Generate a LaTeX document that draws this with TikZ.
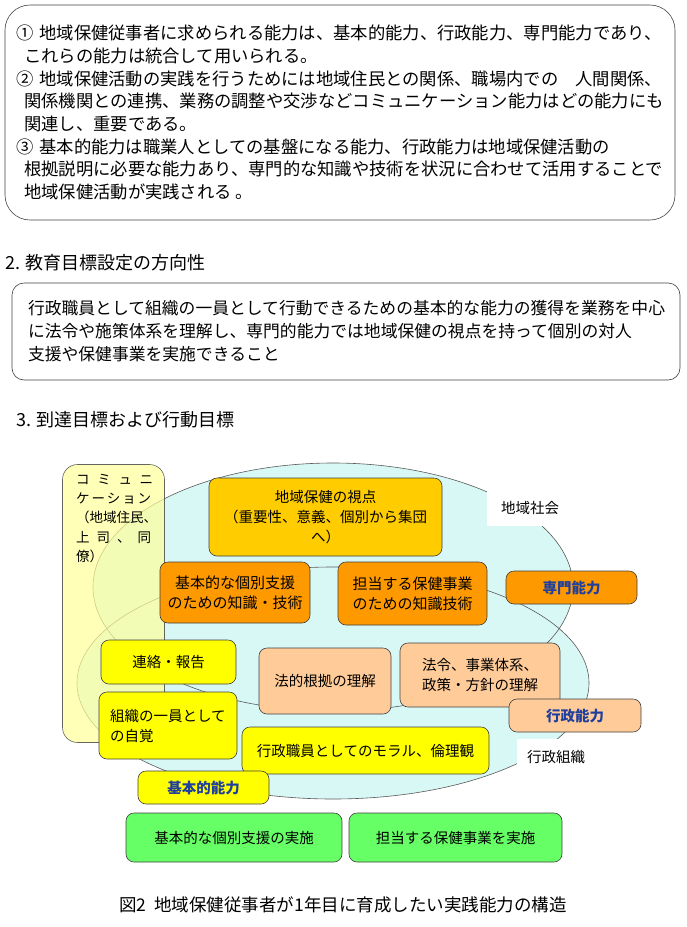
\documentclass[tikz,border=0pt]{standalone}
\usepackage{fontspec}
\setmainfont{Noto Sans CJK JP}
\usepackage{tikz}
\usetikzlibrary{positioning}
\definecolor{basicyellow}{HTML}{FFFF00}
\definecolor{commyellow}{HTML}{FFFF99}
\definecolor{adminpeach}{HTML}{FFCC99}
\definecolor{expertorange}{HTML}{FF9900}
\definecolor{viewgold}{HTML}{FFCC00}
\definecolor{practicegreen}{HTML}{66FF66}
\definecolor{areacyan}{HTML}{D8F8F6}
\definecolor{tagblue}{HTML}{1F3F9F}
\newcommand{\fs}[2]{\fontsize{#1}{#2}\selectfont}

\begin{document}
\begin{tikzpicture}[
  x=1pt, y=-1pt,
  font=\fs{14.5}{20},
  panel/.style={draw=black!75, line width=0.6pt, rounded corners=#1, inner sep=0pt},
  boxsize/.style 2 args={minimum width=#1pt, minimum height=#2pt},
  cbox/.style={draw=black!75, line width=0.6pt, rounded corners=8pt, align=center, inner sep=0pt},
  basic/.style={cbox, fill=basicyellow},
  admin/.style={cbox, fill=adminpeach},
  expert/.style={cbox, fill=expertorange, font=\fs{15}{20}},
  view/.style={cbox, fill=viewgold},
  practice/.style={cbox, fill=practicegreen},
  tag/.style={font=\bfseries\fs{14.5}{18}, text=tagblue},
  area/.style={draw=black!65, line width=0.6pt},
  arealabel/.style={fill=white, inner sep=0pt},
  heading/.style={anchor=west, inner sep=0pt, font=\fs{18}{22}},
]
\useasboundingbox (0,0) rectangle (686,927);

% 1. Basic ideas
\node[panel=25pt, boxsize={670}{215}, align=left, font=\fs{17.3}{22.7}] (aims) at (340,112.5)
  {①\hspace{6pt}地域保健従事者に求められる能力は、基本的能力、行政能力、専門能力であり、\\
   \hspace*{8pt}これらの能力は統合して用いられる。\\
   ②\hspace{6pt}地域保健活動の実践を行うためには地域住民との関係、職場内での　人間関係、\\
   \hspace*{8pt}関係機関との連携、業務の調整や交渉などコミュニケーション能力はどの能力にも\\
   \hspace*{8pt}関連し、重要である。\\
   ③\hspace{6pt}基本的能力は職業人としての基盤になる能力、行政能力は地域保健活動の\\
   \hspace*{8pt}根拠説明に必要な能力あり、専門的な知識や技術を状況に合わせて活用することで\\
   \hspace*{8pt}地域保健活動が実践される 。};

% 2. Direction of the goals
\node[heading] (head2) at (5,263) {2. 教育目標設定の方向性};
\node[panel=12pt, boxsize={668}{97}, text width=636pt, align=left, font=\fs{16.8}{23}] (direction) at (346,331.5)
  {行政職員として組織の一員として行動できるための基本的な能力の獲得を業務を中心\\
   に法令や施策体系を理解し、専門的能力では地域保健の視点を持って個別の対人\\
   支援や保健事業を実施できること};

% 3. Goals
\node[heading] (head3) at (16,420) {3. 到達目標および行動目標};

% Areas: community and administration
\fill[areacyan] (333,587) ellipse [x radius=240pt, y radius=124pt];
\fill[areacyan] (333,683) ellipse [x radius=256pt, y radius=116pt];
\draw[area] (333,587) ellipse [x radius=240pt, y radius=124pt];
\draw[area] (333,683) ellipse [x radius=256pt, y radius=116pt];
\node[arealabel, boxsize={86}{35}] (society) at (530,508) {地域社会};
\node[arealabel, boxsize={78}{36}] (org) at (556,757) {行政組織};

% Communication band
\node[cbox, rounded corners=15pt, fill=commyellow, fill opacity=0.7, draw opacity=0.8, boxsize={102}{278}] (comm) at (113.5,603.5) {};
\node[anchor=north west, inner sep=0pt, align=left, font=\fs{13.5}{19.2}] (commtext) at (76,474)
  {\makebox[77pt]{コ\hfill ミ\hfill ュ\hfill ニ}\\
   \makebox[75pt]{ケ\hfill ー\hfill シ\hfill ョ\hfill ン}\\
   （地域住民、\\
   \makebox[75pt]{上\hfill 司\hfill 、\hfill 同}\\
   僚）};

% Expert abilities
\node[view, boxsize={233}{78}] (viewpoint) at (325.5,517) {地域保健の視点\\（重要性、意義、個別から集団\\へ）};
\node[expert, boxsize={150}{61}] (indiv) at (235,592.5) {基本的な個別支援\\のための知識・技術};
\node[expert, boxsize={149}{63}] (program) at (412.5,593.5) {担当する保健事業\\のための知識技術};
\node[cbox, fill=expertorange, tag, boxsize={131}{33}] (expertTag) at (571.5,587.5) {専門能力};

% Administrative abilities
\node[admin, boxsize={132}{66}] (legal) at (325,681) {法的根拠の理解};
\node[admin, boxsize={160}{64}] (law) at (480,675) {法令、事業体系、\\政策・方針の理解};
\node[cbox, fill=adminpeach, tag, boxsize={132}{33}] (adminTag) at (575,715.5) {行政能力};

% Basic abilities
\node[basic, boxsize={135}{44}] (contact) at (168.5,662) {連絡・報告};
\node[basic, boxsize={138}{67}, text width=116pt, align=left] (member) at (168,725.5) {組織の一員として\\の自覚};
\node[basic, boxsize={247}{47}] (moral) at (365.5,750.5) {行政職員としてのモラル、倫理観};
\node[cbox, fill=basicyellow, tag, boxsize={131}{33}] (basicTag) at (203.5,787.5) {基本的能力};

% Practice
\node[practice, boxsize={216}{49}] (care) at (234,837.5) {基本的な個別支援の実施};
\node[practice, boxsize={213}{49}] (service) at (455.5,837.5) {担当する保健事業を実施};

\node[font=\fs{17.5}{20}] (caption) at (343,905) {図2\hspace{8pt}地域保健従事者が1年目に育成したい実践能力の構造};

\end{tikzpicture}
\end{document}
